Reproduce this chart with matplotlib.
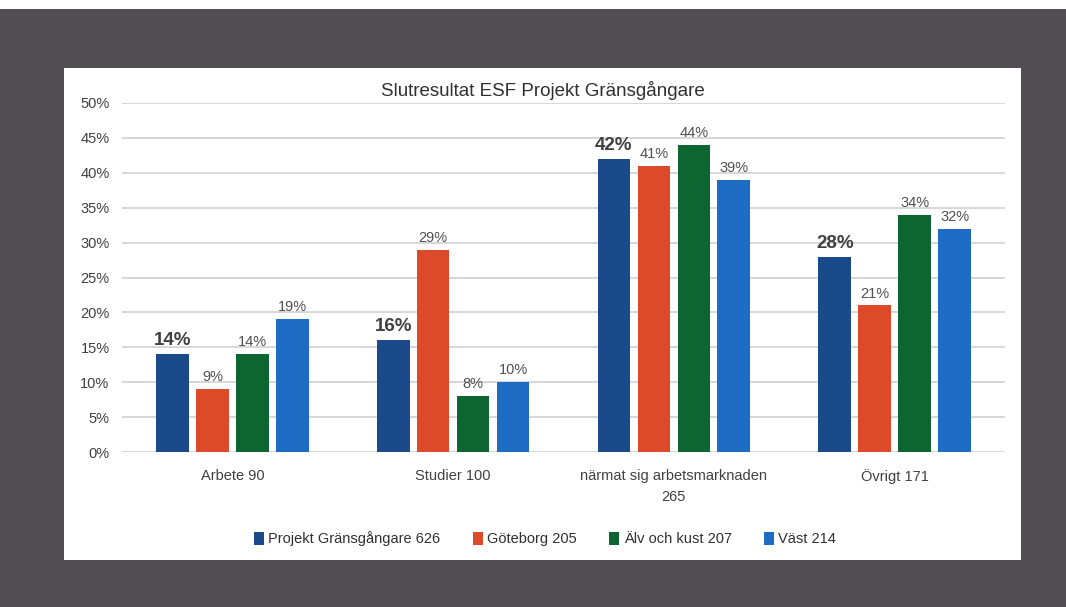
import numpy as np
import matplotlib
matplotlib.use("Agg")
import matplotlib.pyplot as plt
from matplotlib.patches import Rectangle

plt.rcParams['font.family'] = ['Liberation Sans', 'DejaVu Sans']

categories = ["Arbete 90", "Studier 100", "närmat sig arbetsmarknaden\n265", "Övrigt 171"]
series = ["Projekt Gränsgångare 626", "Göteborg 205", "Älv och kust 207", "Väst 214"]
projekt = [14, 16, 42, 28]
goteborg = [9, 29, 41, 21]
alv = [14, 8, 44, 34]
vast = [19, 10, 39, 32]
colors = ["#1a4a8a", "#dd4a2a", "#0d6632", "#1f6cc4"]

values = [projekt, goteborg, alv, vast]

fig = plt.figure(figsize=(10.66, 6.07), dpi=100)
fig.patch.set_facecolor("#524e54")
# white strip at the very top
fig.patches.append(Rectangle((0, 1 - 9/607), 1, 9/607, transform=fig.transFigure,
                             facecolor="white", edgecolor="none", zorder=-2))
# white chart panel
fig.patches.append(Rectangle((64/1066, 1 - 560/607), (1021 - 64)/1066, (560 - 68)/607,
                             transform=fig.transFigure, facecolor="white", edgecolor="none", zorder=-2))

ax = fig.add_axes([122/1066, 1 - 452/607, (1005 - 122)/1066, (452 - 103)/607])
ax.set_facecolor("none")

x = np.arange(len(categories))
pitch = 0.181
width = 0.148
for i, (vals, col, name) in enumerate(zip(values, colors, series)):
    pos = x + (i - 1.5) * pitch
    ax.bar(pos, np.array(vals) / 100, width=width, color=col, label=name, zorder=3)
    for px, v in zip(pos, vals):
        if i == 0:
            ax.text(px, v / 100 + 0.007, f"{v}%", ha="center", va="bottom",
                    fontsize=13.5, fontweight="bold", color="#404040")
        else:
            ax.text(px, v / 100 + 0.007, f"{v}%", ha="center", va="bottom",
                    fontsize=10.5, color="#505050")

ax.set_xlim(-0.5, 3.5)
ax.set_ylim(0, 0.5)
ax.set_yticks(np.arange(0, 0.51, 0.05))
ax.set_yticklabels([f"{int(round(t * 100))}%" for t in np.arange(0, 0.51, 0.05)])
ax.yaxis.grid(True, color="#d4d4d4", linewidth=1.3, zorder=0)
ax.set_axisbelow(True)
ax.set_xticks(x)
ax.set_xticklabels(categories, linespacing=1.7)
for s in ax.spines.values():
    s.set_visible(False)
ax.tick_params(axis="both", length=0, labelsize=10.5, colors="#404040")
ax.tick_params(axis="y", pad=9)
ax.tick_params(axis="x", pad=12)

fig.text(543/1066, 1 - 90/607, "Slutresultat ESF Projekt Gränsgångare", ha="center", va="center",
         fontsize=13.5, color="#303030")

ax.legend(loc="center", bbox_to_anchor=(545/1066, 1 - 539/607), bbox_transform=fig.transFigure,
          ncol=4, frameon=False, fontsize=10.5, handlelength=0.7, handleheight=0.9,
          handletextpad=0.3, columnspacing=2.2, labelcolor="#303030")

fig.savefig("out.png", dpi=100, facecolor=fig.get_facecolor())
